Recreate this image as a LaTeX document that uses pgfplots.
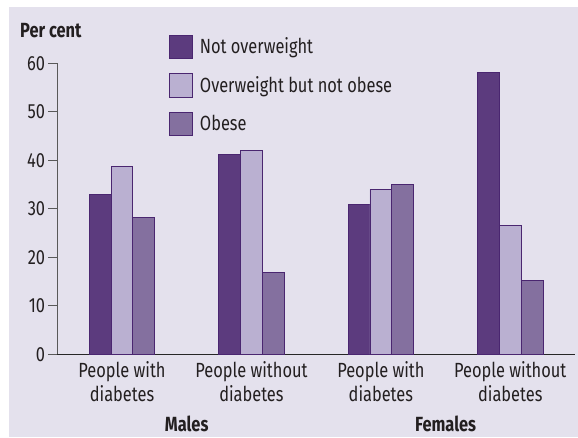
\documentclass[border=0pt]{standalone}
\usepackage{pgfplots}
\pgfplotsset{compat=1.18}
\usepackage{fontspec}
\setmainfont{Fira Sans}[FakeStretch=0.8]
\definecolor{bgc}{HTML}{E4E1ED}
\definecolor{cdark}{HTML}{5C3B7E}
\definecolor{clight}{HTML}{BAB0D1}
\definecolor{cmed}{HTML}{84709F}
\definecolor{cedge}{HTML}{4A2670}
\definecolor{ctext}{HTML}{231F20}
\begin{document}
\begin{tikzpicture}
\useasboundingbox (0,0) rectangle (578pt,437pt);
\fill[white] (0,0) rectangle (578pt,437pt);
\fill[bgc] (9pt,0) rectangle (578pt,430pt);
\begin{axis}[
  at={(57.3pt,82.7pt)}, anchor=south west,
  scale only axis, width=517.7pt, height=291pt,
  xmin=-0.5, xmax=3.5, ymin=0, ymax=60,
  axis x line=bottom, axis y line=left,
  axis line style={-},
  x axis line style={draw=black!85, line width=1.2pt},
  y axis line style={draw=black!65, line width=0.8pt},
  ytick={0,10,...,60},
  tick align=outside,
  major tick length=9pt,
  ytick style={draw=black!65, line width=0.8pt},
  xtick={0,1,2,3},
  xtick style={draw=none},
  xticklabels={{People with\\diabetes},{People without\\diabetes},{People with\\diabetes},{People without\\diabetes}},
  font={\fontsize{20.5}{24}\selectfont\color{ctext}},
  xticklabel style={align=center, anchor=north, inner sep=0pt, yshift=2pt, font={\fontsize{20.5}{24}\selectfont\color{ctext}}},
  yticklabel style={inner sep=0pt, xshift=-3pt, font={\fontsize{20.5}{24}\selectfont\color{ctext}}},
  /pgf/number format/assume math mode=true,
  ybar=0pt, bar width=21.8pt,
  clip=false,
  legend cell align=left,
  legend style={at={(0.2158,1.0973)}, anchor=north west, draw=none, fill=none,
    inner sep=0pt, outer sep=0pt, row sep=14.2pt, column sep=7pt,
    nodes={inner sep=0pt, outer sep=0pt},
    cells={anchor=base west},
    font={\fontsize{20.5}{24}\selectfont\color{ctext}}},
  legend image code/.code={\draw[#1] (0pt,-5pt) rectangle (23pt,18.3pt);},
]
\addplot[fill=cdark, draw=cedge, line width=0.9pt] coordinates {(0,32.9) (1,41.2) (2,30.8) (3,58.1)};
\addplot[fill=clight, draw=cedge, line width=0.9pt] coordinates {(0,38.8) (1,42.0) (2,34.0) (3,26.5)};
\addplot[fill=cmed, draw=cedge, line width=0.9pt] coordinates {(0,28.2) (1,16.8) (2,35.0) (3,15.3)};
\legend{Not overweight, Overweight but not obese, Obese}
\node[anchor=base, inner sep=0pt, yshift=-77pt, font={\fontsize{20.5}{24}\selectfont\bfseries\color{ctext}}] at (axis cs:0.5,0) {Males};
\node[anchor=base, inner sep=0pt, yshift=-77pt, font={\fontsize{20.5}{24}\selectfont\bfseries\color{ctext}}] at (axis cs:2.5,0) {Females};
\node[anchor=base west, inner sep=0pt, xshift=-37.3pt, yshift=25.6pt, font={\fontsize{20.5}{24}\selectfont\bfseries\color{ctext}}] at (rel axis cs:0,1) {Per cent};
\end{axis}
\end{tikzpicture}
\end{document}
